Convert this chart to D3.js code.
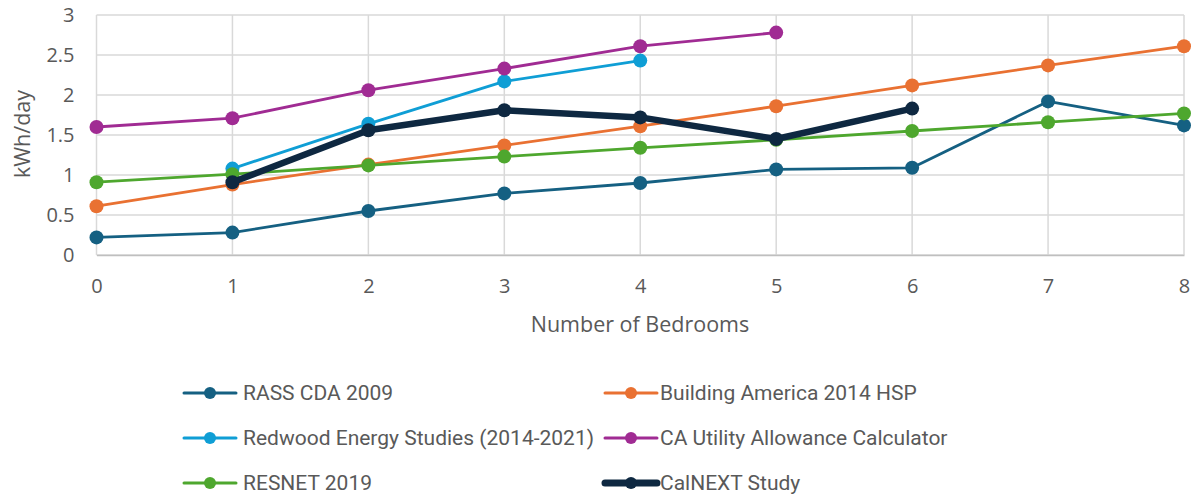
<!DOCTYPE html>
<html><head><meta charset="utf-8">
<script src="https://cdn.jsdelivr.net/npm/d3@7"></script>
<style>body{margin:0;background:#fff}svg{display:block}</style>
</head><body><svg id="c" width="1197" height="495"></svg>
<script>
const bedrooms = [0,1,2,3,4,5,6,7,8];
const yTicks = [0,0.5,1,1.5,2,2.5,3];
const seriesNames = ["RASS CDA 2009","Building America 2014 HSP","Redwood Energy Studies (2014-2021)","CA Utility Allowance Calculator","RESNET 2019","CalNEXT Study"];
const rass     = [0.22,0.28,0.55,0.77,0.90,1.07,1.09,1.92,1.62];
const building = [0.61,0.88,1.13,1.37,1.61,1.86,2.12,2.37,2.61];
const redwood  = [null,1.08,1.64,2.17,2.43,null,null,null,null];
const caUtil   = [1.60,1.71,2.06,2.33,2.61,2.78,null,null,null];
const resnet   = [0.91,1.01,1.12,1.23,1.34,1.44,1.55,1.66,1.77];
const calnext  = [null,0.91,1.56,1.81,1.72,1.45,1.83,null,null];
const colors = ["#156082","#E97132","#0F9ED5","#A02B93","#4EA72E","#0E2841"];

const series = [rass,building,redwood,caUtil,resnet,calnext].map((v,i)=>({name:seriesNames[i],values:v,color:colors[i],bold:i===5}));

const svg = d3.select("#c");
const x = d3.scaleLinear().domain([0,8]).range([96.5,1184]);
const y = d3.scaleLinear().domain([0,3]).range([255,15]);
const font = "'Open Sans', 'Liberation Sans', sans-serif";
const grid = "#d9d9d9";

// gridlines
svg.append("g").selectAll("line").data(yTicks).join("line")
  .attr("x1",x(0)).attr("x2",x(8)).attr("y1",d=>y(d)).attr("y2",d=>y(d))
  .attr("stroke",grid).attr("stroke-width",1.5);
svg.append("g").selectAll("line").data(bedrooms).join("line")
  .attr("x1",d=>x(d)).attr("x2",d=>x(d)).attr("y1",y(0)).attr("y2",y(3))
  .attr("stroke",grid).attr("stroke-width",1.5);

// axes labels
const xAxis = svg.append("g").attr("transform",`translate(0,${y(0)})`)
  .call(d3.axisBottom(x).tickValues(bedrooms).tickSize(0).tickPadding(24).tickFormat(d3.format("d")));
xAxis.select(".domain").attr("stroke","#bfbfbf").attr("stroke-width",1.5);
xAxis.selectAll("text").attr("font-family",font).attr("font-size",20).attr("fill","#595959");

const yAxis = svg.append("g").attr("transform",`translate(${x(0)},0)`)
  .call(d3.axisLeft(y).tickValues(yTicks).tickSize(0).tickPadding(22).tickFormat(d=>String(d)));
yAxis.select(".domain").remove();
yAxis.selectAll("text").attr("font-family",font).attr("font-size",20).attr("fill","#595959");

svg.append("text").attr("x",640).attr("y",332).attr("text-anchor","middle")
  .attr("font-family",font).attr("font-size",21.5).attr("fill","#595959").text("Number of Bedrooms");
svg.append("text").attr("transform","translate(30,134) rotate(-90)").attr("text-anchor","middle")
  .attr("font-family",font).attr("font-size",21.5).attr("fill","#595959").text("kWh/day");

// lines
const line = d3.line().defined(d=>d.v!=null).x(d=>x(d.x)).y(d=>y(d.v));
series.forEach(s=>{
  const pts = bedrooms.map((b,i)=>({x:b,v:s.values[i]}));
  const g = svg.append("g");
  g.append("path").datum(pts).attr("d",line).attr("fill","none")
    .attr("stroke",s.color).attr("stroke-width",s.bold?6.5:2.8).attr("stroke-linejoin","round").attr("stroke-linecap","round");
  g.selectAll("circle").data(pts.filter(d=>d.v!=null)).join("circle")
    .attr("cx",d=>x(d.x)).attr("cy",d=>y(d.v)).attr("r",7).attr("fill",s.color);
});

// legend
const legendFont = "'Liberation Sans Narrow', 'Roboto', sans-serif";
const lg = svg.append("g");
series.forEach((s,i)=>{
  const col = i%2, row = Math.floor(i/2);
  const lx = col===0?184:605, ly = 393 + row*45;
  const g = lg.append("g").attr("transform",`translate(${lx},${ly})`);
  g.append("line").attr("x1",0).attr("x2",52).attr("y1",0).attr("y2",0)
    .attr("stroke",s.color).attr("stroke-width",s.bold?7:3).attr("stroke-linecap","round");
  g.append("circle").attr("cx",26).attr("cy",0).attr("r",6).attr("fill",s.color);
  g.append("text").attr("x",col===0?59:55).attr("y",0).attr("dy","0.35em")
    .attr("font-family",legendFont).attr("font-size",21).attr("fill","#595959").text(s.name);
});
</script></body></html>
